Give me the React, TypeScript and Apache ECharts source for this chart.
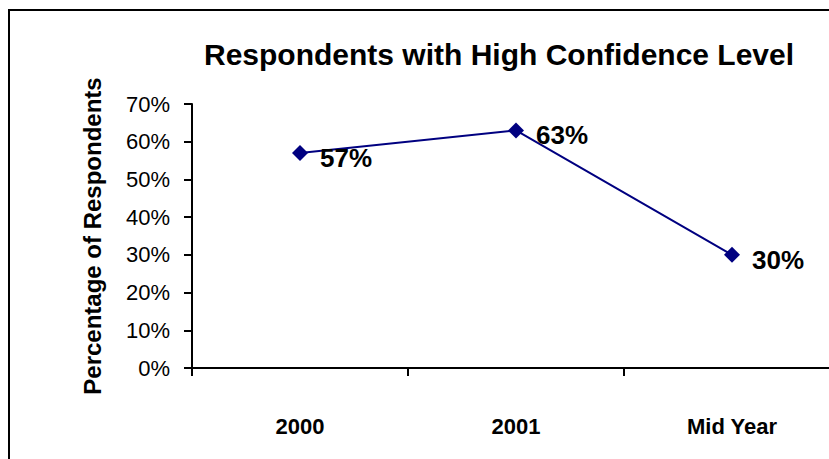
import React, { useEffect, useRef } from "react";
import * as echarts from "echarts";

const categories = ["2000", "2001", "Mid Year"];
const values = [0.57, 0.63, 0.3];
const yTicks = { min: 0, max: 0.7, interval: 0.1 };
const titleText = "Respondents with High Confidence Level";
const yAxisName = "Percentage of Respondents";

const FONT = "'Liberation Sans', Arial, sans-serif";

export default function App() {
  const ref = useRef<HTMLDivElement>(null);
  useEffect(() => {
    document.body.style.margin = "0";
    const chart = echarts.init(ref.current!, null, { renderer: "svg" });
    chart.setOption({
      animation: false,
      backgroundColor: "#ffffff",
      title: {
        text: titleText,
        left: 199,
        top: 34,
        textStyle: { fontFamily: FONT, fontWeight: "bold", fontSize: 30, color: "#000" },
      },
      graphic: [
        {
          type: "rect",
          shape: { x: 9, y: 10, width: 900, height: 500 },
          style: { fill: "none", stroke: "#000", lineWidth: 2 },
          silent: true,
        },
      ],
      grid: { left: 192, top: 104, bottom: 91, right: 10, containLabel: false },
      xAxis: {
        type: "category",
        data: categories,
        boundaryGap: true,
        axisLine: { show: true, lineStyle: { color: "#000", width: 2 } },
        axisTick: { show: true, length: 8, lineStyle: { color: "#000", width: 2 } },
        axisLabel: {
          margin: 47,
          fontFamily: FONT,
          fontWeight: "bold",
          fontSize: 22,
          color: "#000",
        },
        splitLine: { show: false },
      },
      yAxis: {
        type: "value",
        min: yTicks.min,
        max: yTicks.max,
        interval: yTicks.interval,
        name: yAxisName,
        nameLocation: "middle",
        nameGap: 88,
        nameTextStyle: { fontFamily: FONT, fontWeight: "bold", fontSize: 24, color: "#000" },
        axisLine: { show: true, lineStyle: { color: "#000", width: 2 } },
        axisTick: { show: true, length: 8, lineStyle: { color: "#000", width: 2 } },
        axisLabel: {
          margin: 22,
          fontFamily: FONT,
          fontSize: 22,
          color: "#000",
          formatter: (v: number) => `${Math.round(v * 100)}%`,
        },
        splitLine: { show: false },
      },
      series: [
        {
          type: "line",
          data: values,
          symbol: "diamond",
          symbolSize: 16,
          lineStyle: { color: "#000080", width: 2 },
          itemStyle: { color: "#000080" },
          label: {
            show: true,
            position: "right",
            distance: 12,
            offset: [0, 5],
            fontFamily: FONT,
            fontWeight: "bold",
            fontSize: 26,
            color: "#000",
            formatter: (p: any) => `${Math.round(p.value * 100)}%`,
          },
        },
      ],
    });
    return () => chart.dispose();
  }, []);
  return (
    <div style={{ width: 829, height: 459, overflow: "hidden" }}>
      <div ref={ref} style={{ width: 850, height: 459 }} />
    </div>
  );
}
